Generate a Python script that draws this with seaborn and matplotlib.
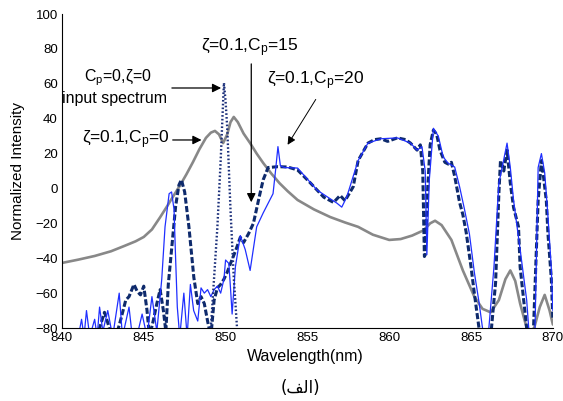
import numpy as np
import matplotlib
matplotlib.use("Agg")
import matplotlib.pyplot as plt
import seaborn as sns

sns.set_style("white")
plt.rcParams['font.family'] = ['Liberation Sans', 'DejaVu Sans']
plt.rcParams['mathtext.fontset'] = 'custom'
plt.rcParams['mathtext.rm'] = 'Liberation Sans'
plt.rcParams['mathtext.it'] = 'Liberation Sans'
plt.rcParams['mathtext.default'] = 'regular'
plt.rcParams['text.color'] = 'black'
plt.rcParams['xtick.color'] = 'black'
plt.rcParams['ytick.color'] = 'black'

# zeta=0.1, Cp=0 (gray solid)
wl_cp0 = [840.0, 841.0, 842.0, 843.0, 843.8, 844.5, 845.0, 845.5, 846.0, 846.4, 846.8,
          847.2, 847.6, 848.0, 848.4, 848.8, 849.1, 849.35, 849.6, 849.85, 850.1, 850.3,
          850.5, 850.75, 851.1, 851.5, 851.9, 852.3, 852.8, 853.3, 853.8, 854.4, 855.4,
          856.4, 857.3, 858.1, 859.0, 860.0, 860.7, 861.4, 862.1, 862.5, 862.8, 863.2,
          863.8, 864.5, 865.2, 865.7, 866.2, 866.7, 867.1, 867.4, 867.7, 868.0, 868.4,
          868.8, 869.2, 869.5, 869.8, 870.0]
int_cp0 = [-42.7, -40.8, -38.7, -36, -33, -30.3, -27.8, -23.5, -16.5, -10.6, -4.5,
           1.5, 8, 15, 22.5, 29, 32, 33, 31, 26, 31, 38,
           41, 38, 31.5, 26, 20, 14.6, 8.5, 3, -1.6, -6.6, -12,
           -16.4, -19.5, -22, -26.5, -29.5, -29, -27, -24, -20, -18.5, -21,
           -29.5, -47, -62, -69, -71, -64, -52, -47, -53, -66, -80,
           -82, -68, -61, -70, -78]

# Cp=0, zeta=0 input spectrum (dotted)
wl_input = [848.9, 849.1, 849.3, 849.5, 849.7, 849.85, 849.9, 850.0, 850.1, 850.3, 850.5, 850.7, 850.9]
int_input = [-95, -80, -51, -22, 16, 50, 60.5, 50, 35, -12, -51, -80, -95]

# zeta=0.1, Cp=15 (dashed navy)
wl_cp15 = [841.8, 842.3, 842.6, 842.9, 843.3, 843.6, 843.9, 844.1, 844.4, 844.6, 844.8,
           845.0, 845.2, 845.35, 845.6, 845.8, 846.0, 846.2, 846.35, 846.5, 846.6, 846.8,
           846.95, 847.15, 847.3, 847.5, 847.76, 848.06, 848.3, 848.5, 848.7, 848.9, 849.1,
           849.3, 849.5, 849.7, 849.9, 850.1, 850.3, 850.6, 850.9, 851.1, 851.4, 851.7,
           852.1, 852.3, 852.6, 853.2, 853.8, 854.4, 855.2, 856.0, 856.6, 857.0, 857.3,
           857.8, 858.1, 858.7, 859.1, 859.5, 859.9, 860.5, 861.0, 861.3, 861.7, 861.9,
           862.05, 862.15, 862.2, 862.35, 862.5, 862.7, 862.9, 863.1, 863.4, 863.6, 863.8,
           864.0, 864.3, 864.5, 864.7, 865.0, 865.2, 865.5, 865.8, 866.2, 866.5, 866.7,
           866.8, 867.0, 867.2, 867.4, 867.6, 867.9, 868.0, 868.4, 868.6, 868.8, 869.1,
           869.3, 869.4, 869.6, 869.7, 869.9, 870.0]
int_cp15 = [-90, -80, -71, -80, -85, -75, -64, -62, -55, -59, -61,
            -56, -70, -85, -75, -66, -58, -70, -82, -55, -45, -25,
            -10, 2, 5, -2, -22, -51, -66, -62, -66, -76, -85,
            -64, -57, -55, -52, -48, -43, -36, -28, -31, -26, -20,
            -3, 5, 12, 12.5, 12.3, 10.6, 3, -5, -8, -4, -7,
            1, 16, 26, 28, 28.5, 27, 29, 28, 26, 22, 25,
            10, -39, -38, 0, 25, 33.5, 31, 22, 15, 14, 15,
            7, -8, -15, -25, -45, -60, -81, -90, -85, -54, -3,
            16, 10, 22, 3, -11, -22, -45, -80, -90, -85, -7,
            16, 9, -7, -26, -51, -75]

# zeta=0.1, Cp=20 (thin blue)
wl_cp20 = [840.9, 841.2, 841.35, 841.5, 841.7, 842.0, 842.15, 842.3, 842.5, 842.8, 843.1,
           843.5, 843.7, 844.1, 844.3, 844.6, 844.9, 845.2, 845.5, 845.8, 846.1, 846.3,
           846.55, 846.7, 846.85, 846.95, 847.05, 847.2, 847.45, 847.65, 847.85, 848.05, 848.3,
           848.5, 848.7, 848.9, 849.1, 849.3, 849.5, 849.7, 849.9, 850.0, 850.2, 850.3,
           850.4, 850.6, 850.9, 851.2, 851.5, 851.9, 852.3, 852.9, 853.05, 853.2, 853.35,
           853.6, 854.4, 855.6, 856.8, 857.1, 857.4, 858.1, 858.7, 859.5, 860.5, 861.3,
           861.7, 862.0, 862.2, 862.3, 862.45, 862.7, 863.0, 863.3, 863.6, 864.0, 864.3,
           864.6, 864.9, 865.2, 865.5, 865.7, 866.0, 866.4, 866.7, 866.9, 867.2, 867.4,
           867.6, 868.0, 868.4, 868.6, 868.9, 869.1, 869.3, 869.5, 869.7, 869.9, 870.0]
int_cp20 = [-90, -75, -85, -70, -85, -75, -85, -68, -82, -70, -85,
            -60, -85, -68, -85, -84, -72, -85, -62, -82, -52, -22,
            -3, -2, -12, -41, -68, -85, -60, -85, -55, -70, -76,
            -57, -60, -58, -62, -58, -56, -60, -52, -41, -43, -57,
            -72, -45, -27, -35, -47, -22, -14, -3, 10, 24, 13,
            12, 11.7, -1, -8.4, -10.7, -5, 16, 26, 28.5, 29, 26,
            22, 24, 10, -38, 5, 34.5, 30, 18, 14.5, 12.3, 1,
            -12, -26, -48, -66, -80, -90, -45, 3, 12, 26, 12,
            -7, -35, -64, -90, -85, 12, 20, 9, -16, -45, -70]

fig, ax = plt.subplots(figsize=(5.63, 4.01), dpi=100)
fig.subplots_adjust(left=0.110, right=0.982, bottom=0.182, top=0.965)

sns.lineplot(x=wl_cp0, y=int_cp0, ax=ax, color='#888888', lw=1.9)
sns.lineplot(x=wl_cp15, y=int_cp15, ax=ax, color='#0e2a6c', lw=2.2,
             linestyle=(0, (2.0, 0.8)))
sns.lineplot(x=wl_cp20, y=int_cp20, ax=ax, color='#1f2fff', lw=0.9)
sns.lineplot(x=wl_input, y=int_input, ax=ax, color='#1b2f7a', lw=1.7,
             linestyle=(0, (0.7, 0.9)))

ax.set_xlim(840, 870)
ax.set_ylim(-80, 100)
ax.set_xticks(np.arange(840, 871, 5))
ax.set_yticks(np.arange(-80, 101, 20))
ax.tick_params(direction='in', length=3.5, width=0.8, labelsize=9.5, pad=3,
               colors='black')
sns.despine(ax=ax)
for s in ['left', 'bottom']:
    ax.spines[s].set_color('black')
    ax.spines[s].set_linewidth(0.8)

fig.text(305 / 563, 1 - 357 / 401, 'Wavelength(nm)', ha='center', va='center', fontsize=11.5)
fig.text(18 / 563, 1 - 171 / 401, 'Normalized Intensity', ha='center', va='center',
         rotation=90, fontsize=11)
fig.text(300 / 563, 1 - 388 / 401, '(\ufed2\ufedf\u0627)', ha='center', va='center',
         fontsize=12, family=['DejaVu Sans', 'Noto Sans'])

arw = dict(arrowstyle='-|>', color='black', lw=0.9, mutation_scale=13)
fs = 11.5
fz = 12.5

ax.text(851.5, 80.5, r'$\zeta$=0.1,C$_p$=15', ha='center', va='center', fontsize=fz)
ax.annotate('', xy=(851.57, -9.5), xytext=(851.57, 73), arrowprops=arw)

ax.text(843.4, 63.3, r'C$_p$=0,$\zeta$=0', ha='center', va='center', fontsize=fs)
ax.text(843.2, 51.8, 'input spectrum', ha='center', va='center', fontsize=fs)
ax.annotate('', xy=(849.9, 57.6), xytext=(846.55, 57.6), arrowprops=arw)

ax.text(846.6, 27.8, r'$\zeta$=0.1,C$_p$=0', ha='right', va='center', fontsize=fz)
ax.annotate('', xy=(848.7, 27.8), xytext=(846.6, 27.8), arrowprops=arw)

ax.text(855.5, 62, r'$\zeta$=0.1,C$_p$=20', ha='center', va='center', fontsize=fz)
ax.annotate('', xy=(853.7, 23.7), xytext=(855.6, 52.4),
            arrowprops=dict(arrowstyle='-|>', color='black', lw=0.7, mutation_scale=12))

fig.savefig('out.png', dpi=100)
